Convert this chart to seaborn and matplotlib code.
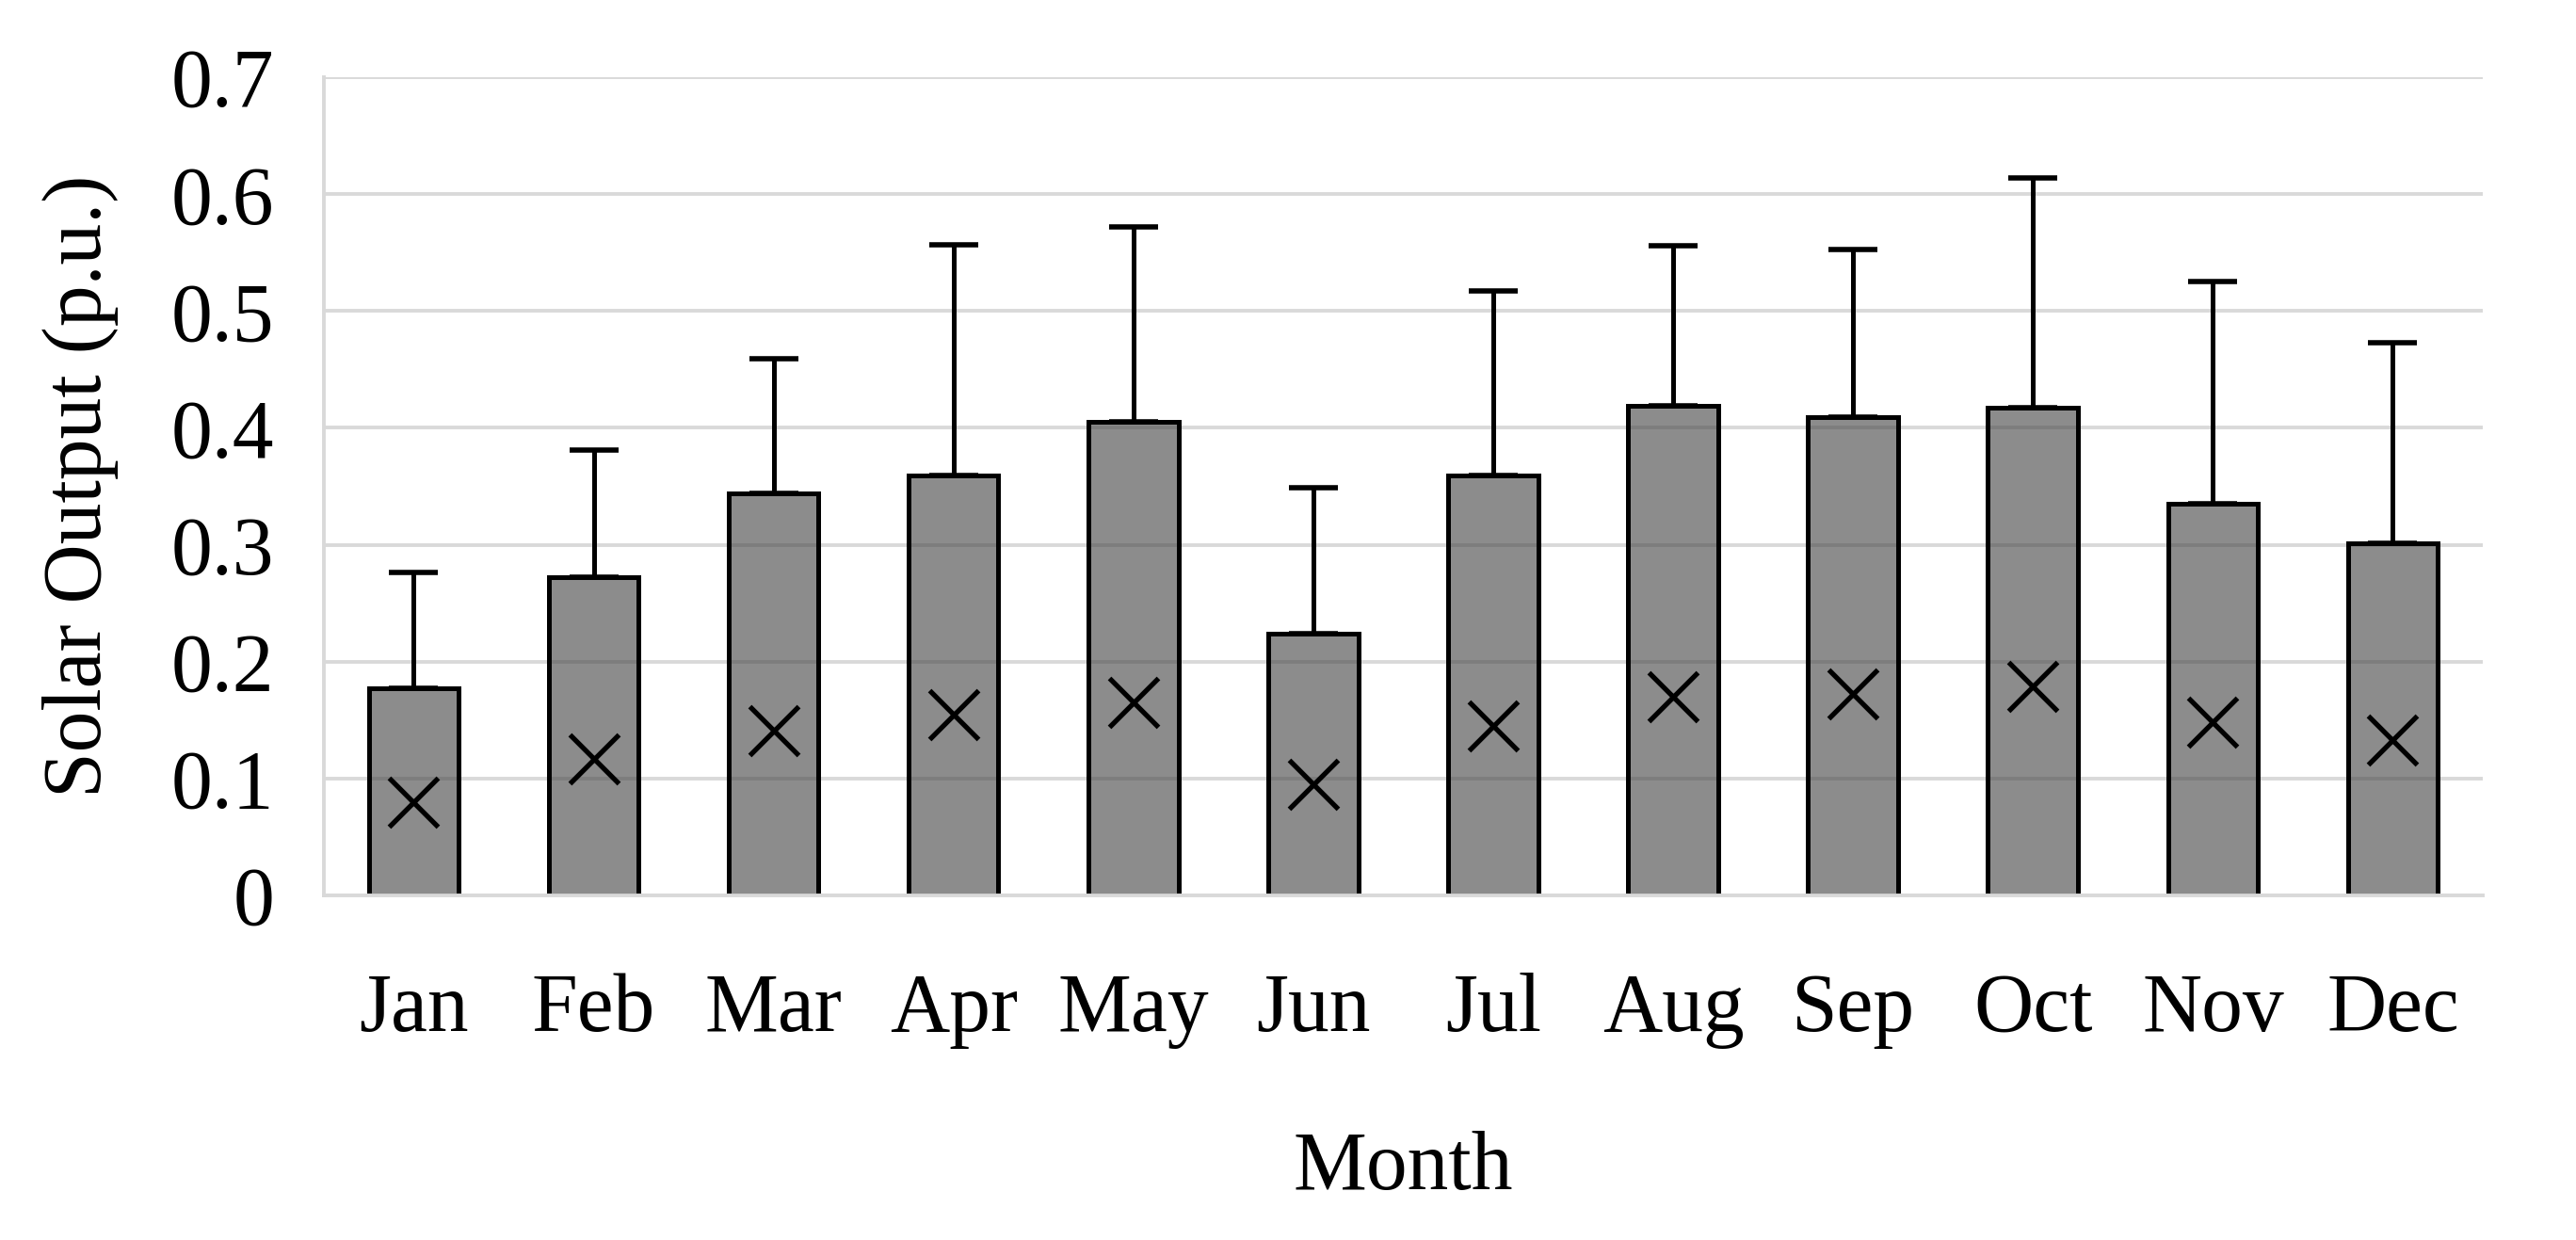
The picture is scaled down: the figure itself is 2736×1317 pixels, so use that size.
import numpy as np
import pandas as pd
import matplotlib
matplotlib.use("Agg")
import matplotlib.pyplot as plt
import seaborn as sns

months = ["Jan", "Feb", "Mar", "Apr", "May", "Jun", "Jul", "Aug", "Sep", "Oct", "Nov", "Dec"]
mean_output = [0.177, 0.272, 0.344, 0.359, 0.405, 0.224, 0.359, 0.419, 0.409, 0.417, 0.335, 0.301]
upper_output = [0.276, 0.381, 0.459, 0.557, 0.572, 0.349, 0.517, 0.556, 0.553, 0.614, 0.525, 0.473]
median_output = [0.080, 0.117, 0.141, 0.155, 0.165, 0.095, 0.145, 0.170, 0.172, 0.179, 0.148, 0.133]
y_ticks = [0, 0.1, 0.2, 0.3, 0.4, 0.5, 0.6, 0.7]
y_tick_labels = ["0", "0.1", "0.2", "0.3", "0.4", "0.5", "0.6", "0.7"]

df = pd.DataFrame({"Month": months, "Mean": mean_output,
                   "Upper": upper_output, "Median": median_output})

sns.set_theme(style="white")
plt.rcParams["font.family"] = ["Liberation Serif", "DejaVu Serif"]
plt.rcParams["text.color"] = "black"
plt.rcParams["axes.labelcolor"] = "black"

fig = plt.figure(figsize=(27.36, 13.17), dpi=100)
ax = fig.add_axes([0.1257, 0.2779, 0.8381, 0.6598])

ax.set_axisbelow(True)
ax.yaxis.grid(True, color="#d9d9d9", linewidth=2.8)

sns.barplot(data=df, x="Month", y="Mean", color="#8c8c8c", width=0.5,
            edgecolor="black", linewidth=3.6, ax=ax, errorbar=None)
for p in ax.patches:
    p.set_facecolor((0.25, 0.25, 0.25, 0.6))
    p.set_zorder(2)

xpos = np.arange(len(months))
err_up = np.array(upper_output) - np.array(mean_output)
ax.errorbar(xpos, mean_output, yerr=[np.zeros(len(months)), err_up],
            fmt="none", ecolor="black", elinewidth=3.6, capsize=19,
            capthick=4.0, zorder=1.5)

sns.scatterplot(data=df, x="Month", y="Median", marker="x", s=1400,
                color="black", linewidth=3.8, ax=ax, zorder=4, legend=False)

ax.set_ylim(0, 0.7)
ax.set_xlim(-0.5, 11.5)
ax.set_yticks(y_ticks)
ax.set_yticklabels(y_tick_labels)

for s in ["top", "right"]:
    ax.spines[s].set_visible(False)
ax.spines["left"].set_color("#d9d9d9")
ax.spines["left"].set_linewidth(2.8)
ax.spines["bottom"].set_color("#d9d9d9")
ax.spines["bottom"].set_linewidth(2.8)

ax.tick_params(axis="both", length=0, labelsize=63, colors="black")
ax.tick_params(axis="x", pad=59)
ax.tick_params(axis="y", pad=38)

ax.set_xlabel("Month", fontsize=63, labelpad=63, color="black")
ax.set_ylabel("Solar Output (p.u.)", fontsize=63, labelpad=40, color="black")

fig.savefig("out.png", dpi=100)
